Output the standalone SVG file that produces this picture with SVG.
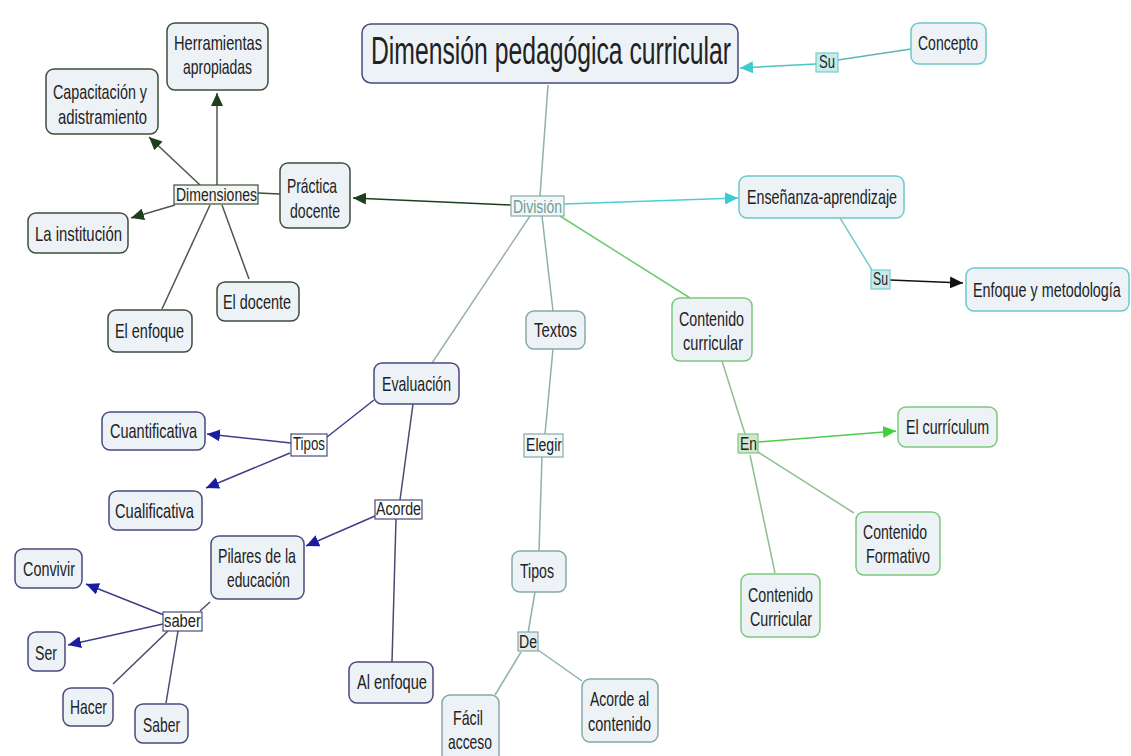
<svg xmlns="http://www.w3.org/2000/svg" width="1131" height="756" viewBox="0 0 1131 756">
<defs>
<style>
text{font-family:"Liberation Sans",Arial,sans-serif;fill:#222}
.t{font-size:21px}
.l{font-size:18px}
.n rect{fill:#edf2f7;stroke-width:1.5}
.g rect{stroke:#3c4f3c}
.c rect{stroke:#6cc9cc}
.s rect{stroke:#86aaa6}
.v rect{stroke:#4a4a7e}
.e rect{stroke:#7dc77d}
.lb rect{stroke-width:1.2}
.edges line,.edges path{fill:none;stroke-width:1.5}
</style>
<marker id="aG" markerUnits="userSpaceOnUse" markerWidth="14" markerHeight="12" refX="13" refY="6" orient="auto"><path d="M0,0 L13,6 L0,12 z" fill="#1d3f1d"/></marker>
<marker id="aC" markerUnits="userSpaceOnUse" markerWidth="14" markerHeight="12" refX="13" refY="6" orient="auto"><path d="M0,0 L13,6 L0,12 z" fill="#3fc9d2"/></marker>
<marker id="aK" markerUnits="userSpaceOnUse" markerWidth="14" markerHeight="12" refX="13" refY="6" orient="auto"><path d="M0,0 L13,6 L0,12 z" fill="#111"/></marker>
<marker id="aB" markerUnits="userSpaceOnUse" markerWidth="14" markerHeight="12" refX="13" refY="6" orient="auto"><path d="M0,0 L13,6 L0,12 z" fill="#1c1ca0"/></marker>
<marker id="aL" markerUnits="userSpaceOnUse" markerWidth="14" markerHeight="12" refX="13" refY="6" orient="auto"><path d="M0,0 L13,6 L0,12 z" fill="#3fcf3f"/></marker>
</defs>
<rect width="1131" height="756" fill="#fff"/>
<g class="edges">
<line x1="548" y1="85" x2="540" y2="196" stroke="#8fb0ae"/>
<line x1="911" y1="49" x2="838" y2="60" stroke="#5db5b5"/>
<line x1="816" y1="64" x2="740" y2="68" stroke="#4cc4c4" marker-end="url(#aC)"/>
<line x1="564" y1="204" x2="738" y2="198" stroke="#48cfd8" marker-end="url(#aC)"/>
<line x1="840" y1="218" x2="872" y2="270" stroke="#7cc9cc"/>
<line x1="890" y1="280" x2="963" y2="283" stroke="#111" marker-end="url(#aK)"/>
<line x1="511" y1="205" x2="353" y2="198" stroke="#1d3f1d" marker-end="url(#aG)"/>
<line x1="258" y1="193" x2="280" y2="194" stroke="#3c4f3c"/>
<line x1="217" y1="185" x2="217" y2="93" stroke="#4a5a4a" marker-end="url(#aG)"/>
<line x1="200" y1="185" x2="149" y2="137" stroke="#4a5a4a" marker-end="url(#aG)"/>
<line x1="175" y1="205" x2="131" y2="218" stroke="#4a5a4a" marker-end="url(#aG)"/>
<line x1="210" y1="205" x2="162" y2="309" stroke="#4a5a4a"/>
<line x1="222" y1="205" x2="249" y2="279" stroke="#4a5a4a"/>
<line x1="542" y1="216" x2="553" y2="311" stroke="#8fb0ae"/>
<line x1="553" y1="349" x2="545" y2="434" stroke="#8fb0ae"/>
<line x1="542" y1="457" x2="539" y2="551" stroke="#8fb0ae"/>
<line x1="535" y1="592" x2="528" y2="633" stroke="#8fb0ae"/>
<line x1="521" y1="652" x2="495" y2="695" stroke="#8fb0ae"/>
<line x1="538" y1="650" x2="582" y2="681" stroke="#8fb0ae"/>
<line x1="560" y1="216" x2="690" y2="298" stroke="#6ccc6c"/>
<line x1="722" y1="361" x2="745" y2="434" stroke="#8fbf8f"/>
<line x1="758" y1="442" x2="896" y2="431" stroke="#4ccc4c" marker-end="url(#aL)"/>
<line x1="758" y1="452" x2="854" y2="513" stroke="#8fbf8f"/>
<line x1="750" y1="455" x2="775" y2="573" stroke="#8fbf8f"/>
<line x1="530" y1="216" x2="432" y2="363" stroke="#9ab0ac"/>
<line x1="374" y1="400" x2="327" y2="437" stroke="#3e3e8a"/>
<line x1="291" y1="443" x2="207" y2="434" stroke="#3e3e8a" marker-end="url(#aB)"/>
<line x1="290" y1="453" x2="206" y2="488" stroke="#3e3e8a" marker-end="url(#aB)"/>
<line x1="413" y1="404" x2="400" y2="500" stroke="#4a4a6e"/>
<line x1="396" y1="519" x2="392" y2="662" stroke="#4a4a6e"/>
<line x1="375" y1="516" x2="306" y2="546" stroke="#3e3e8a" marker-end="url(#aB)"/>
<line x1="210" y1="602" x2="200" y2="611" stroke="#4a4a6e"/>
<line x1="164" y1="615" x2="86" y2="584" stroke="#3e3e8a" marker-end="url(#aB)"/>
<line x1="163" y1="624" x2="68" y2="645" stroke="#3e3e8a" marker-end="url(#aB)"/>
<line x1="168" y1="631" x2="113" y2="684" stroke="#4a4a6e"/>
<line x1="178" y1="631" x2="166" y2="703" stroke="#4a4a6e"/>
</g>
<g id="title" class="n v"><rect x="362" y="24" width="376" height="59" rx="9"/><text transform="translate(371,64) scale(0.651,1)" font-size="38">Dimensión pedagógica curricular</text></g>
<g id="concepto" class="n c"><rect x="911" y="23" width="75" height="41" rx="8"/><text class="t" x="918" y="50" textLength="60" lengthAdjust="spacingAndGlyphs">Concepto</text></g>
<g id="su1" class="lb"><rect x="816" y="53" width="22" height="19" fill="#c5ebeb" stroke="#7cc"/><text class="l" x="819" y="68" textLength="16" lengthAdjust="spacingAndGlyphs">Su</text></g>
<g id="division" class="lb"><rect x="511" y="196" width="53" height="20" fill="#f2f8f8" stroke="#86aaa6"/><text class="l" x="513" y="213" textLength="49" lengthAdjust="spacingAndGlyphs" style="fill:#6e9c98">División</text></g>
<g id="ensenanza" class="n c"><rect x="739" y="176" width="165" height="42" rx="8"/><text class="t" x="747" y="204" textLength="150" lengthAdjust="spacingAndGlyphs">Enseñanza-aprendizaje</text></g>
<g id="su2" class="lb"><rect x="871" y="270" width="19" height="19" fill="#c5ebeb" stroke="#7cc"/><text class="l" x="873" y="285" textLength="15" lengthAdjust="spacingAndGlyphs">Su</text></g>
<g id="enfoque-met" class="n c"><rect x="966" y="268" width="163" height="43" rx="8"/><text class="t" transform="translate(973,297) scale(0.685,1)">Enfoque y metodología</text></g>
<g id="practica" class="n g"><rect x="280" y="163" width="70" height="65" rx="8"/><text class="t" x="287" y="193" textLength="50" lengthAdjust="spacingAndGlyphs">Práctica</text><text class="t" x="290" y="218" textLength="50" lengthAdjust="spacingAndGlyphs">docente</text></g>
<g id="dimensiones" class="lb"><rect x="174" y="185" width="84" height="19" fill="#f4f6f4" stroke="#3c4f3c"/><text class="l" x="176" y="201" textLength="81" lengthAdjust="spacingAndGlyphs">Dimensiones</text></g>
<g id="herramientas" class="n g"><rect x="167" y="23" width="101" height="67" rx="8"/><text class="t" x="174" y="50" textLength="88" lengthAdjust="spacingAndGlyphs">Herramientas</text><text class="t" x="183" y="74" textLength="69" lengthAdjust="spacingAndGlyphs">apropiadas</text></g>
<g id="capacitacion" class="n g"><rect x="46" y="69" width="112" height="65" rx="8"/><text class="t" x="53" y="99" textLength="94" lengthAdjust="spacingAndGlyphs">Capacitación y</text><text class="t" x="58" y="124" textLength="89" lengthAdjust="spacingAndGlyphs">adistramiento</text></g>
<g id="institucion" class="n g"><rect x="28" y="213" width="100" height="40" rx="8"/><text class="t" x="35" y="241" textLength="87" lengthAdjust="spacingAndGlyphs">La institución</text></g>
<g id="el-enfoque" class="n g"><rect x="108" y="310" width="84" height="42" rx="8"/><text class="t" x="115" y="338" textLength="69" lengthAdjust="spacingAndGlyphs">El enfoque</text></g>
<g id="el-docente" class="n g"><rect x="217" y="282" width="82" height="39" rx="8"/><text class="t" x="223" y="309" textLength="68" lengthAdjust="spacingAndGlyphs">El docente</text></g>
<g id="textos" class="n s"><rect x="526" y="311" width="59" height="38" rx="8"/><text class="t" x="534" y="337" textLength="43" lengthAdjust="spacingAndGlyphs">Textos</text></g>
<g id="elegir" class="lb"><rect x="524" y="434" width="39" height="23" fill="#f4f8f8" stroke="#86aaa6"/><text class="l" x="526" y="451" textLength="36" lengthAdjust="spacingAndGlyphs">Elegir</text></g>
<g id="tipos-t" class="n s"><rect x="512" y="551" width="54" height="41" rx="8"/><text class="t" x="520" y="578" textLength="34" lengthAdjust="spacingAndGlyphs">Tipos</text></g>
<g id="de" class="lb"><rect x="518" y="632" width="20" height="19" fill="#e2eeee" stroke="#86aaa6"/><text class="l" x="519" y="648" textLength="18" lengthAdjust="spacingAndGlyphs">De</text></g>
<g id="facil" class="n s"><rect x="442" y="695" width="57" height="70" rx="8"/><text class="t" x="453" y="725" textLength="30" lengthAdjust="spacingAndGlyphs">Fácil</text><text class="t" x="448" y="749" textLength="44" lengthAdjust="spacingAndGlyphs">acceso</text></g>
<g id="acorde-cont" class="n s"><rect x="582" y="679" width="76" height="63" rx="8"/><text class="t" x="590" y="706" textLength="59" lengthAdjust="spacingAndGlyphs">Acorde al</text><text class="t" x="588" y="731" textLength="63" lengthAdjust="spacingAndGlyphs">contenido</text></g>
<g id="contenido-curr" class="n e"><rect x="672" y="298" width="80" height="63" rx="8"/><text class="t" x="679" y="326" textLength="65" lengthAdjust="spacingAndGlyphs">Contenido</text><text class="t" x="683" y="350" textLength="60" lengthAdjust="spacingAndGlyphs">curricular</text></g>
<g id="en" class="lb"><rect x="738" y="434" width="20" height="19" fill="#cfe6cf" stroke="#7dc77d"/><text class="l" x="740" y="450" textLength="17" lengthAdjust="spacingAndGlyphs">En</text></g>
<g id="curriculum" class="n e"><rect x="898" y="407" width="99" height="40" rx="8"/><text class="t" x="906" y="434" textLength="83" lengthAdjust="spacingAndGlyphs">El currículum</text></g>
<g id="formativo" class="n e"><rect x="856" y="512" width="84" height="63" rx="8"/><text class="t" x="863" y="539" textLength="64" lengthAdjust="spacingAndGlyphs">Contenido</text><text class="t" x="866" y="563" textLength="64" lengthAdjust="spacingAndGlyphs">Formativo</text></g>
<g id="curricular2" class="n e"><rect x="741" y="574" width="79" height="63" rx="8"/><text class="t" x="748" y="602" textLength="65" lengthAdjust="spacingAndGlyphs">Contenido</text><text class="t" x="750" y="626" textLength="62" lengthAdjust="spacingAndGlyphs">Curricular</text></g>
<g id="evaluacion" class="n v"><rect x="374" y="363" width="85" height="41" rx="8"/><text class="t" x="382" y="391" textLength="69" lengthAdjust="spacingAndGlyphs">Evaluación</text></g>
<g id="tipos-e" class="lb"><rect x="291" y="434" width="36" height="22" fill="#fff" stroke="#4a4a7e"/><text class="l" x="293" y="450" textLength="32" lengthAdjust="spacingAndGlyphs">Tipos</text></g>
<g id="cuantitativa" class="n v"><rect x="102" y="412" width="103" height="38" rx="8"/><text class="t" x="110" y="438" textLength="87" lengthAdjust="spacingAndGlyphs">Cuantificativa</text></g>
<g id="cualificativa" class="n v"><rect x="109" y="491" width="93" height="39" rx="8"/><text class="t" x="115" y="518" textLength="79" lengthAdjust="spacingAndGlyphs">Cualificativa</text></g>
<g id="acorde" class="lb"><rect x="375" y="500" width="47" height="19" fill="#fff" stroke="#4a4a7e"/><text class="l" x="376" y="515" textLength="45" lengthAdjust="spacingAndGlyphs">Acorde</text></g>
<g id="pilares" class="n v"><rect x="211" y="536" width="93" height="63" rx="8"/><text class="t" x="218" y="563" textLength="78" lengthAdjust="spacingAndGlyphs">Pilares de la</text><text class="t" x="227" y="587" textLength="63" lengthAdjust="spacingAndGlyphs">educación</text></g>
<g id="al-enfoque" class="n v"><rect x="349" y="662" width="84" height="41" rx="8"/><text class="t" x="357" y="689" textLength="70" lengthAdjust="spacingAndGlyphs">Al enfoque</text></g>
<g id="saber-l" class="lb"><rect x="163" y="612" width="39" height="19" fill="#fff" stroke="#4a4a7e"/><text class="l" x="164" y="627" textLength="37" lengthAdjust="spacingAndGlyphs">saber</text></g>
<g id="convivir" class="n v"><rect x="15" y="549" width="67" height="39" rx="8"/><text class="t" x="23" y="576" textLength="52" lengthAdjust="spacingAndGlyphs">Convivir</text></g>
<g id="ser" class="n v"><rect x="28" y="632" width="37" height="39" rx="8"/><text class="t" x="35" y="660" textLength="22" lengthAdjust="spacingAndGlyphs">Ser</text></g>
<g id="hacer" class="n v"><rect x="63" y="688" width="50" height="38" rx="8"/><text class="t" x="70" y="714" textLength="37" lengthAdjust="spacingAndGlyphs">Hacer</text></g>
<g id="saber" class="n v"><rect x="135" y="704" width="53" height="39" rx="8"/><text class="t" x="143" y="732" textLength="37" lengthAdjust="spacingAndGlyphs">Saber</text></g>
</svg>
